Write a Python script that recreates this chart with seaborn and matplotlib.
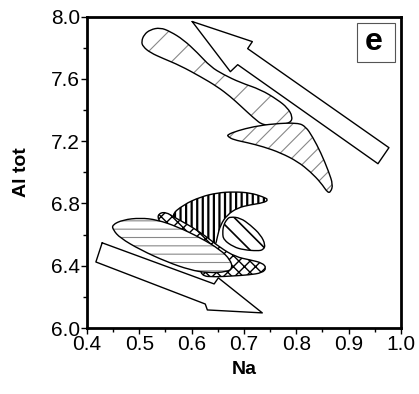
import numpy as np
import matplotlib
matplotlib.use("Agg")
import matplotlib.pyplot as plt
from matplotlib.path import Path
from matplotlib.patches import PathPatch, Rectangle
import seaborn as sns

# --- field outlines in Na / Al tot space ---
upper_na = [0.504, 0.509, 0.521, 0.540, 0.559, 0.584, 0.611, 0.636, 0.661, 0.693, 0.732, 0.764,
            0.783, 0.793, 0.789, 0.770, 0.737, 0.718, 0.693, 0.674, 0.649, 0.617, 0.578, 0.546,
            0.521, 0.507]
upper_al = [7.839, 7.884, 7.916, 7.929, 7.904, 7.852, 7.768, 7.678, 7.627, 7.576, 7.531, 7.466,
            7.415, 7.357, 7.318, 7.305, 7.299, 7.350, 7.428, 7.486, 7.550, 7.614, 7.685, 7.730,
            7.768, 7.807]

boom_na = [0.668, 0.688, 0.718, 0.757, 0.803, 0.818, 0.831, 0.847, 0.862, 0.870, 0.866, 0.860,
           0.847, 0.827, 0.803, 0.770, 0.737, 0.707, 0.680, 0.670]
boom_al = [7.241, 7.267, 7.293, 7.312, 7.318, 7.293, 7.228, 7.125, 7.003, 6.920, 6.875, 6.868,
           6.933, 7.003, 7.068, 7.125, 7.164, 7.190, 7.209, 7.228]

ell_na = [0.448, 0.469, 0.502, 0.534, 0.573, 0.617, 0.655, 0.674, 0.678, 0.668, 0.630, 0.597,
          0.553, 0.502, 0.463, 0.450]
ell_al = [6.662, 6.695, 6.707, 6.695, 6.650, 6.579, 6.502, 6.437, 6.386, 6.360, 6.354, 6.373,
          6.424, 6.502, 6.579, 6.630]

cross_na = [0.536, 0.550, 0.569, 0.597, 0.626, 0.655, 0.684, 0.712, 0.735, 0.743, 0.735, 0.709,
            0.678, 0.645, 0.617, 0.617, 0.578, 0.550, 0.536]
cross_al = [6.733, 6.746, 6.707, 6.656, 6.592, 6.515, 6.457, 6.437, 6.418, 6.386, 6.354, 6.341,
            6.334, 6.328, 6.334, 6.424, 6.534, 6.630, 6.695]

vert_na = [0.559, 0.584, 0.617, 0.649, 0.680, 0.712, 0.737, 0.747, 0.737, 0.712, 0.688, 0.668,
           0.655, 0.649, 0.645, 0.617, 0.584]
vert_al = [6.720, 6.791, 6.842, 6.868, 6.875, 6.868, 6.842, 6.823, 6.804, 6.791, 6.772, 6.727,
           6.662, 6.585, 6.521, 6.585, 6.662]

diag_na = [0.674, 0.693, 0.712, 0.732, 0.741, 0.737, 0.726, 0.699, 0.680, 0.661, 0.659, 0.661,
           0.668]
diag_al = [6.714, 6.707, 6.662, 6.598, 6.534, 6.502, 6.495, 6.502, 6.521, 6.566, 6.611, 6.662,
           6.701]

# trend arrows
arrow_up_na = [0.601, 0.674, 0.688, 0.956, 0.977, 0.707, 0.716, 0.601]
arrow_up_al = [7.968, 7.646, 7.691, 7.055, 7.158, 7.794, 7.839, 7.968]
arrow_dn_na = [0.429, 0.417, 0.626, 0.630, 0.735, 0.651, 0.643, 0.429]
arrow_dn_al = [6.547, 6.424, 6.154, 6.116, 6.097, 6.322, 6.283, 6.547]

x_ticks = [0.4, 0.5, 0.6, 0.7, 0.8, 0.9, 1.0]
y_ticks = [6.0, 6.4, 6.8, 7.2, 7.6, 8.0]
panel_label = "e"


def smooth_path(xs, ys):
    # closed outline with rounded corners (quadratic bezier through midpoints)
    pts = np.column_stack([xs, ys])
    mids = (pts + np.roll(pts, -1, axis=0)) / 2
    verts = [mids[-1]]
    codes = [Path.MOVETO]
    for i in range(len(pts)):
        verts += [pts[i], mids[i]]
        codes += [Path.CURVE3, Path.CURVE3]
    verts.append(mids[-1])
    codes.append(Path.CLOSEPOLY)
    return Path(verts, codes)


def field(ax, xs, ys, hatch, hcolor, hlw):
    path = smooth_path(xs, ys)
    with plt.rc_context({"hatch.linewidth": hlw}):
        fill = PathPatch(path, facecolor="white", edgecolor=hcolor, lw=0, hatch=hatch)
        if hasattr(fill, "set_hatch_linewidth"):
            fill.set_hatch_linewidth(hlw)
        ax.add_patch(fill)
    ax.add_patch(PathPatch(path, facecolor="none", edgecolor="black", lw=1.0))


sns.set_theme(style="ticks")
plt.rcParams["font.family"] = ["Liberation Sans", "DejaVu Sans"]
plt.rcParams["text.color"] = "black"
plt.rcParams["axes.labelcolor"] = "black"

fig = plt.figure(figsize=(4.19, 3.94), dpi=100)
ax = fig.add_axes([0.2076, 0.1675, 0.7494, 0.7905])

field(ax, upper_na, upper_al, "/", "#888888", 0.8)
field(ax, boom_na, boom_al, "//", "#888888", 0.8)
field(ax, vert_na, vert_al, "|||", "black", 1.6)
field(ax, diag_na, diag_al, "\\\\", "black", 1.2)
field(ax, cross_na, cross_al, "xxx", "black", 1.0)
field(ax, ell_na, ell_al, "--", "#888888", 0.8)

sns.lineplot(x=arrow_up_na, y=arrow_up_al, sort=False, estimator=None, color="black", lw=1.0, ax=ax)
sns.lineplot(x=arrow_dn_na, y=arrow_dn_al, sort=False, estimator=None, color="black", lw=1.0, ax=ax)

ax.set_xlim(0.4, 1.0)
ax.set_ylim(6.0, 8.0)
ax.set_xticks(x_ticks)
ax.set_xticklabels([f"{t:.1f}" for t in x_ticks])
ax.set_yticks(y_ticks)
ax.set_yticklabels([f"{t:.1f}" for t in y_ticks])
ax.set_xticks(np.arange(0.45, 1.0, 0.1), minor=True)
ax.set_yticks(np.arange(6.2, 8.0, 0.4), minor=True)
ax.tick_params(which="major", direction="out", length=4, width=1, labelsize=15, pad=1, colors="black")
ax.tick_params(which="minor", direction="out", length=3, width=1, colors="black")
for s in ax.spines.values():
    s.set_linewidth(2)
    s.set_color("black")

ax.set_xlabel("Na", fontsize=14, fontweight="bold", labelpad=5)
ax.set_ylabel("Al tot", fontsize=14, fontweight="bold", labelpad=15)

# panel letter in a framed box, top right
ax.add_patch(Rectangle((0.860, 0.854), 0.121, 0.125, transform=ax.transAxes,
                       facecolor="white", edgecolor="#555555", lw=0.8, zorder=3))
ax.text(0.913, 0.918, panel_label, transform=ax.transAxes, ha="center", va="center",
        fontsize=23, fontweight="bold", color="black", zorder=4)

fig.savefig("out.png", dpi=100)
